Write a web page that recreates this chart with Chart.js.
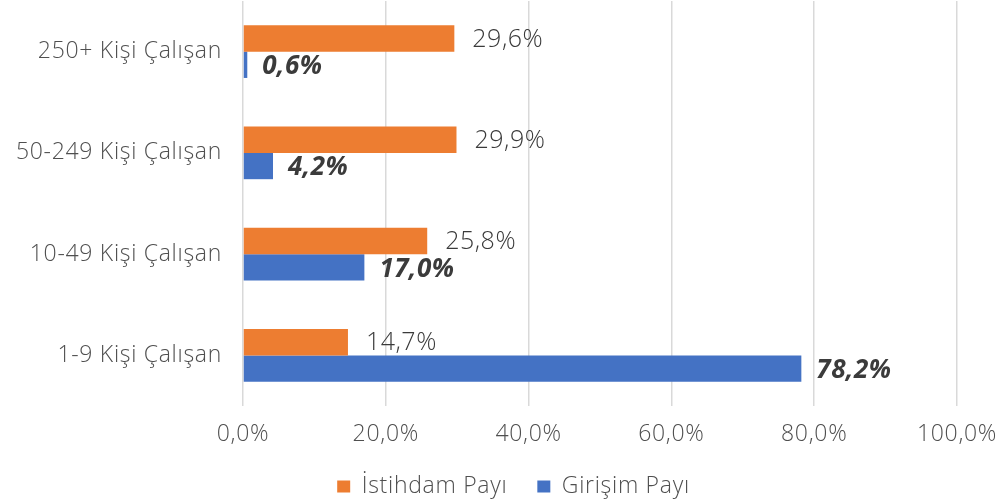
<!DOCTYPE html>
<html>
<head>
<meta charset="utf-8">
<script src="https://cdn.jsdelivr.net/npm/chart.js@4/dist/chart.umd.min.js"></script>
<style>
  html, body { margin: 0; padding: 0; background: #fff; }
  #wrap { width: 998px; height: 502px; }
</style>
</head>
<body>
<div id="wrap"><canvas id="grafico"></canvas></div>
<script>
const kategoriler = ['250+ Kişi Çalışan', '50-249 Kişi Çalışan', '10-49 Kişi Çalışan', '1-9 Kişi Çalışan'];
const istihdamPayi = [29.6, 29.9, 25.8, 14.7];
const girisimPayi = [0.6, 4.2, 17.0, 78.2];
const xTicks = [0, 20, 40, 60, 80, 100];

const FONT = "'Open Sans', sans-serif";
const GRI = '#4f4f4f';
const fmt = (v) => v.toFixed(1).replace('.', ',') + '%';

// harf aralığı (canvas boyutlanınca sıfırlanıyor, her seferinde tekrar)
const aralikPlugin = {
  id: 'aralik',
  beforeLayout(chart) { chart.ctx.letterSpacing = '0.7px'; },
  afterLayout(chart) {
    // lejant biraz sağda duruyor
    chart.legend.left += 35;
    chart.legend.right += 35;
  },
  beforeDraw(chart) { chart.ctx.letterSpacing = '0.7px'; }
};

// eksenlerin kendi ek boşluklarını sıfırla
const sifirla = (scale) => {
  scale.paddingTop = 0;
  scale.paddingBottom = 0;
  scale.paddingLeft = 0;
  scale.paddingRight = 0;
};

// etiketleri çubuk ucuna yaz
const etiketPlugin = {
  id: 'etiketler',
  afterDatasetsDraw(chart) {
    const ctx = chart.ctx;
    chart.data.datasets.forEach((ds, i) => {
      const meta = chart.getDatasetMeta(i);
      meta.data.forEach((bar, j) => {
        ctx.save();
        ctx.textBaseline = 'middle';
        ctx.textAlign = 'left';
        ctx.letterSpacing = '0.5px';
        if (i === 0) {
          ctx.font = '300 25px ' + FONT;
          ctx.fillStyle = '#3a3a3a';
          ctx.fillText(fmt(ds.data[j]), bar.x + 18, bar.y + 1);
        } else {
          ctx.font = 'italic bold 26px ' + FONT;
          ctx.fillStyle = '#3b3b3b';
          ctx.fillText(fmt(ds.data[j]), bar.x + 15, bar.y + 2);
        }
        ctx.restore();
      });
    });
  }
};

const ctx = document.getElementById('grafico').getContext('2d');
const grafik = new Chart(ctx, {
  type: 'bar',
  data: {
    labels: kategoriler,
    datasets: [
      {
        label: 'İstihdam Payı',
        data: istihdamPayi,
        backgroundColor: '#ED7D31'
      },
      {
        label: 'Girişim Payı',
        data: girisimPayi,
        backgroundColor: '#4472C4'
      }
    ]
  },
  options: {
    indexAxis: 'y',
    responsive: true,
    maintainAspectRatio: false,
    animation: false,
    layout: { padding: { top: 1, right: 41, bottom: -6, left: 0 } },
    datasets: {
      bar: { categoryPercentage: 0.52, barPercentage: 1.0 }
    },
    scales: {
      x: {
        min: 0,
        max: 100,
        afterBuildTicks: (scale) => { scale.ticks = xTicks.map(v => ({ value: v })); },
        afterFit: (scale) => { sifirla(scale); scale.height = 39; },
        grid: { color: '#d9d9d9', lineWidth: 1.5, drawTicks: false },
        border: { display: false },
        ticks: {
          padding: 15,
          color: GRI,
          font: { family: FONT, size: 23, weight: '300' },
          callback: (v) => fmt(v)
        }
      },
      y: {
        afterFit: (scale) => { sifirla(scale); scale.width = 243; },
        grid: { display: false, drawTicks: false },
        border: { display: false },
        ticks: {
          padding: 21,
          color: GRI,
          font: { family: FONT, size: 23, weight: '300' }
        }
      }
    },
    plugins: {
      legend: {
        position: 'bottom',
        labels: {
          boxWidth: 13,
          boxHeight: 12,
          padding: 30,
          color: GRI,
          font: { family: FONT, size: 23, weight: '300' }
        }
      },
      tooltip: { enabled: false }
    }
  },
  plugins: [aralikPlugin, etiketPlugin]
});
</script>
</body>
</html>
